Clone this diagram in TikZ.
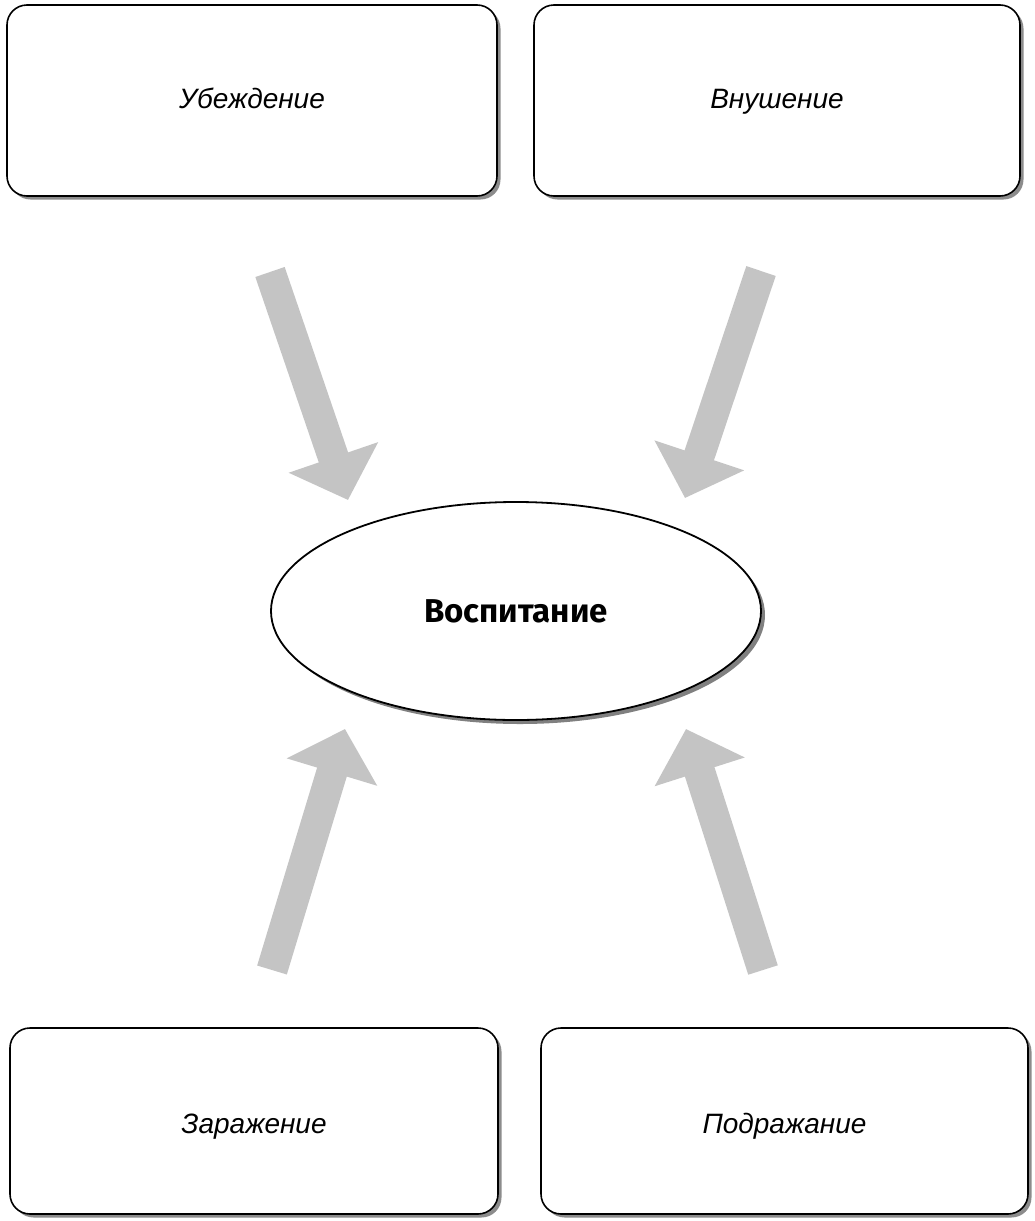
\documentclass[tikz,border=0pt]{standalone}
\usepackage{fontspec}
\setmainfont{Liberation Sans}
\newfontfamily\firasans{Fira Sans}
\usetikzlibrary{shapes.geometric,shadows,arrows.meta}
\tikzset{
  methodbox/.style={draw=black, line width=1.6pt, fill=white, rounded corners=20pt,
    inner sep=0pt, font=\fontsize{28}{32}\selectfont\itshape,
    text height=21pt, text depth=6pt,
    drop shadow={shadow xshift=3.5pt, shadow yshift=-3.5pt, fill=black!45, opacity=1}},
  lowerbox/.style={text height=30pt, text depth=6pt},
  centreoval/.style={ellipse, draw=black, line width=1.8pt, fill=white, inner sep=0pt,
    minimum width=490pt, minimum height=218pt,
    font=\firasans\bfseries\fontsize{33}{38}\selectfont,
    drop shadow={shadow xshift=4pt, shadow yshift=-4pt, fill=black!50, opacity=1}},
  bigarrow/.style={draw=black!23, line width=31pt,
    -{Triangle[width=92pt,length=45pt]}}
}
\begin{document}
\begin{tikzpicture}[x=1pt,y=-1pt]
\useasboundingbox (0,0) rectangle (1034,1221);
% boxes
\node[methodbox, minimum width=490pt, minimum height=191pt] (ub) at (252,100.5) {Убеждение};
\node[methodbox, minimum width=486pt, minimum height=191pt] (vn) at (777,100.5) {Внушение};
\node[methodbox, lowerbox, minimum width=488pt, minimum height=186pt] (za) at (254,1121) {Заражение};
\node[methodbox, lowerbox, minimum width=487pt, minimum height=186pt] (po) at (784.5,1121) {Подражание};
% centre
\node[centreoval] (vo) at (516,611) {Воспитание};
% arrow ends
\coordinate (t1) at (270,272);
\coordinate (h1) at (348,500);
\coordinate (t2) at (761,271);
\coordinate (h2) at (685,498);
\coordinate (t3) at (272,970);
\coordinate (h3) at (345,729);
\coordinate (t4) at (763,970);
\coordinate (h4) at (686,729);
\draw[bigarrow] (t1) -- (h1);
\draw[bigarrow] (t2) -- (h2);
\draw[bigarrow] (t3) -- (h3);
\draw[bigarrow] (t4) -- (h4);
\end{tikzpicture}
\end{document}
